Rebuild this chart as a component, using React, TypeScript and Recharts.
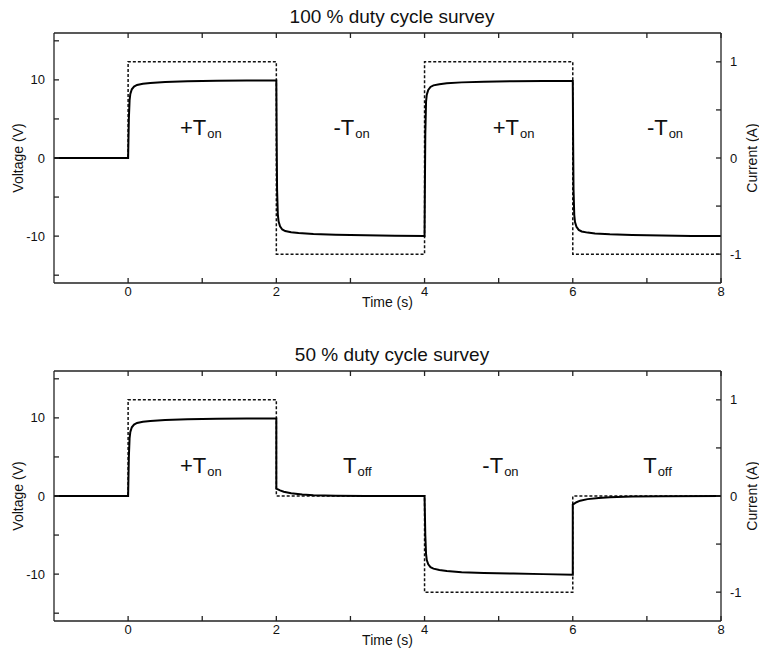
import React from "react";
import {
  LineChart,
  Line,
  XAxis,
  YAxis,
  ReferenceDot,
} from "recharts";

// 100 % duty cycle: coil voltage (V) against time (s)
const timeFull = [
  -1, 0,
  0.005, 0.01, 0.02, 0.03, 0.05, 0.08, 0.12, 0.2, 0.3, 0.5, 0.8, 1.2, 1.6, 2.0,
  2.005, 2.01, 2.02, 2.03, 2.05, 2.08, 2.12, 2.2, 2.3, 2.5, 2.8, 3.2, 3.6, 4.0,
  4.005, 4.01, 4.02, 4.03, 4.05, 4.08, 4.12, 4.2, 4.3, 4.5, 4.8, 5.2, 5.6, 6.0,
  6.005, 6.01, 6.02, 6.03, 6.05, 6.08, 6.12, 6.2, 6.3, 6.5, 6.8, 7.2, 7.6, 8.0,
];
const voltFull = [
  0, 0,
  2.5, 5.0, 7.4, 8.2, 8.8, 9.15, 9.35, 9.5, 9.6, 9.72, 9.82, 9.88, 9.92, 9.93,
  2.0, -4.0, -7.2, -8.1, -8.75, -9.15, -9.35, -9.5, -9.6, -9.72, -9.82, -9.9, -9.95, -9.97,
  -3.0, 3.0, 7.2, 8.1, 8.7, 9.1, 9.3, 9.45, 9.57, 9.68, 9.77, 9.83, 9.86, 9.87,
  2.0, -4.0, -7.3, -8.2, -8.8, -9.2, -9.4, -9.55, -9.65, -9.77, -9.87, -9.93, -9.98, -10.0,
];

// 50 % duty cycle: coil voltage (V) against time (s)
const timeHalf = [
  -1, 0,
  0.005, 0.01, 0.02, 0.03, 0.05, 0.08, 0.12, 0.2, 0.3, 0.5, 0.8, 1.2, 1.6, 2.0,
  2.0, 2.05, 2.1, 2.2, 2.35, 2.5, 2.8, 3.2, 4.0,
  4.005, 4.01, 4.02, 4.03, 4.05, 4.08, 4.12, 4.2, 4.3, 4.5, 4.8, 5.2, 5.6, 6.0,
  6.0, 6.05, 6.1, 6.2, 6.35, 6.5, 6.8, 7.2, 8.0,
];
const voltHalf = [
  0, 0,
  2.5, 5.0, 7.4, 8.2, 8.8, 9.15, 9.35, 9.5, 9.6, 9.72, 9.82, 9.88, 9.92, 9.93,
  0.95, 0.72, 0.55, 0.35, 0.2, 0.1, 0.03, 0.0, 0.0,
  -2.5, -5.0, -7.4, -8.2, -8.75, -9.1, -9.3, -9.48, -9.6, -9.75, -9.85, -9.93, -10.0, -10.08,
  -1.1, -0.8, -0.6, -0.4, -0.25, -0.15, -0.07, -0.03, 0.0,
];

// drive current (A), square steps
const stepTimeFull = [-1, 0, 0, 2, 2, 4, 4, 6, 6, 8];
const currentFull = [0, 0, 1, 1, -1, -1, 1, 1, -1, -1];
const stepTimeHalf = [-1, 0, 0, 2, 2, 4, 4, 6, 6, 8];
const currentHalf = [0, 0, 1, 1, 0, 0, -1, -1, 0, 0];

// phase tags: prefix, subscript and the time where each starts
const tagPrefixFull = ["+T", "-T", "+T", "-T"];
const tagSubFull = ["on", "on", "on", "on"];
const tagTimeFull = [0.7, 2.77, 4.92, 7.0];
const tagPrefixHalf = ["+T", "T", "-T", "T"];
const tagSubHalf = ["on", "off", "on", "off"];
const tagTimeHalf = [0.7, 2.9, 4.78, 6.95];

const timeTicks = [0, 1, 2, 3, 4, 5, 6, 7, 8];
const voltTicks = [-15, -10, -5, 0, 5, 10, 15];
const ampTicks = [-1, -0.5, 0, 0.5, 1];

const FONT = '"Liberation Sans", Arial, Helvetica, sans-serif';
const INK = "#222";

const zip = (ts: number[], ys: number[]) => ts.map((t, i) => ({ t, y: ys[i] }));

type PanelProps = {
  title: string;
  top: number;
  height: number;
  marginTop: number;
  titleTop: number;
  volt: { t: number; y: number }[];
  amp: { t: number; y: number }[];
  tagTimes: number[];
  tagPrefix: string[];
  tagSub: string[];
};

function Panel(p: PanelProps) {
  const tickStyle = { fontSize: 13, fill: "#111", fontFamily: FONT };
  return (
    <div style={{ position: "absolute", left: 0, top: p.top, width: 759, height: p.height }}>
      <div
        style={{
          position: "absolute",
          left: 242,
          width: 300,
          top: p.titleTop,
          textAlign: "center",
          fontSize: 19,
          lineHeight: "19px",
          color: "#111",
          whiteSpace: "nowrap",
        }}
      >
        {p.title}
      </div>
      <LineChart
        width={759}
        height={p.height}
        margin={{ top: p.marginTop, right: 0, bottom: p.height - p.marginTop - 251 - 30, left: 10 }}
      >
        <XAxis
          xAxisId="b"
          dataKey="t"
          type="number"
          domain={[-1, 8]}
          ticks={timeTicks}
          allowDataOverflow
          height={30}
          stroke={INK}
          strokeWidth={1.3}
          tickSize={-5}
          tickMargin={9}
          tick={tickStyle}
          tickFormatter={(v: number) => (v % 2 === 0 ? String(v) : "")}
          label={{ value: "Time (s)", position: "insideBottom", offset: 6, fill: "#111", fontSize: 14 }}
        />
        <XAxis
          xAxisId="top"
          orientation="top"
          dataKey="t"
          type="number"
          domain={[-1, 8]}
          ticks={timeTicks}
          allowDataOverflow
          height={1}
          stroke={INK}
          strokeWidth={1.3}
          tickSize={-5}
          tickFormatter={() => ""}
        />
        <YAxis
          yAxisId="v"
          type="number"
          domain={[-16, 16]}
          ticks={voltTicks}
          allowDataOverflow
          width={44}
          stroke={INK}
          strokeWidth={1.3}
          tickSize={-5}
          tickMargin={14}
          tick={tickStyle}
          tickFormatter={(v: number) => (v % 10 === 0 ? String(v) : "")}
          label={{
            value: "Voltage (V)",
            angle: -90,
            position: "insideLeft",
            offset: 8,
            fill: "#111",
            fontSize: 14,
            style: { textAnchor: "middle" },
          }}
        />
        <YAxis
          yAxisId="a"
          orientation="right"
          type="number"
          domain={[-1.3, 1.3]}
          ticks={ampTicks}
          allowDataOverflow
          width={38}
          stroke={INK}
          strokeWidth={1.3}
          tickSize={-5}
          tickMargin={14}
          tick={tickStyle}
          tickFormatter={(v: number) => (Number.isInteger(v) ? String(v) : "")}
          label={{
            value: "Current (A)",
            angle: -90,
            position: "insideRight",
            offset: 7,
            fill: "#111",
            fontSize: 14,
            style: { textAnchor: "middle" },
          }}
        />
        <Line
          xAxisId="b"
          yAxisId="a"
          data={p.amp}
          dataKey="y"
          type="linear"
          stroke="#111"
          strokeWidth={1.5}
          strokeDasharray="3 2"
          dot={false}
          isAnimationActive={false}
        />
        <Line
          xAxisId="b"
          yAxisId="v"
          data={p.volt}
          dataKey="y"
          type="linear"
          stroke="#000"
          strokeWidth={2}
          dot={false}
          isAnimationActive={false}
        />
        {p.tagTimes.map((t, i) => (
          <ReferenceDot
            key={i}
            xAxisId="b"
            yAxisId="v"
            x={t}
            y={3}
            r={1}
            ifOverflow="visible"
            shape={(s: any) => (
              <text x={s.cx} y={s.cy} fontSize={22} fill="#111" fontFamily={FONT}>
                {p.tagPrefix[i]}
                <tspan fontSize={13} dx={1} dy={3}>
                  {p.tagSub[i]}
                </tspan>
              </text>
            )}
          />
        ))}
      </LineChart>
    </div>
  );
}

export default function App() {
  return (
    <div
      style={{
        position: "absolute",
        left: 0,
        top: 0,
        width: 759,
        height: 648,
        overflow: "hidden",
        background: "#fff",
        fontFamily: FONT,
      }}
    >
      <Panel
        title="100 % duty cycle survey"
        top={0}
        height={325}
        marginTop={32}
        titleTop={7}
        volt={zip(timeFull, voltFull)}
        amp={zip(stepTimeFull, currentFull)}
        tagTimes={tagTimeFull}
        tagPrefix={tagPrefixFull}
        tagSub={tagSubFull}
      />
      <Panel
        title="50 % duty cycle survey"
        top={330}
        height={318}
        marginTop={40}
        titleTop={15}
        volt={zip(timeHalf, voltHalf)}
        amp={zip(stepTimeHalf, currentHalf)}
        tagTimes={tagTimeHalf}
        tagPrefix={tagPrefixHalf}
        tagSub={tagSubHalf}
      />
    </div>
  );
}
